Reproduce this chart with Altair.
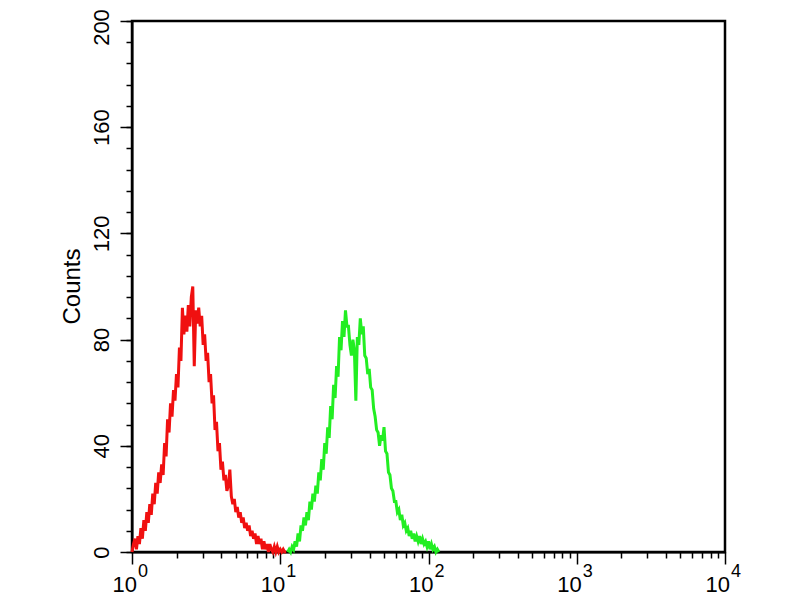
import altair as alt
import pandas as pd

# Histogram bins on a 4-decade log axis, 0.01 decade per bin
STEP = 0.01
red_start = 0.00
red_counts = [0, 3, 5, 1, 6, 3, 9, 5, 12, 8,
              15, 11, 18, 14, 22, 18, 26, 22, 30, 26,
              33, 29, 41, 36, 50, 45, 56, 51, 61, 57,
              67, 62, 77, 72, 92, 82, 89, 83, 93, 85,
              96, 100, 70, 91, 86, 92, 85, 89, 78, 82,
              72, 75, 64, 67, 56, 59, 46, 49, 38, 41,
              31, 34, 27, 29, 23, 25, 31, 21, 18, 20,
              15, 17, 13, 15, 11, 13, 9, 11, 8, 10,
              6, 8, 5, 7, 3, 6, 3, 5, 1, 4,
              1, 3, 0, 3, 1, 0, 2, 0, 2, 0,
              1, 0, 1, 0, 0]
green_start = 1.05
green_counts = [0, 1, 0, 2, 1, 4, 2, 7, 4, 10,
                8, 13, 10, 15, 12, 19, 16, 22, 19, 25,
                22, 30, 27, 35, 31, 41, 37, 47, 43, 55,
                50, 63, 58, 70, 66, 81, 76, 87, 81, 91,
                85, 85, 78, 74, 80, 76, 57, 81, 78, 88,
                82, 85, 74, 73, 67, 69, 62, 61, 54, 51,
                46, 45, 40, 44, 42, 47, 38, 37, 30, 29,
                24, 23, 19, 19, 15, 16, 12, 14, 10, 11,
                8, 9, 6, 8, 5, 7, 4, 6, 4, 6,
                3, 5, 3, 4, 2, 4, 1, 3, 1, 2,
                0, 1, 0]

y_major = [0, 40, 80, 120, 160, 200]
y_minor = list(range(0, 201, 8))
x_major = [1, 10, 100, 1000, 10000]
x_minor = [m * 10 ** k for k in range(4) for m in range(2, 10)]
x_base_text = ["10", "10", "10", "10", "10"]
x_exp_text = ["0", "1", "2", "3", "4"]

rows = []
for i, c in enumerate(red_counts):
    rows.append({"series": "red", "fl": 10 ** (red_start + i * STEP), "count": c})
for i, c in enumerate(green_counts):
    rows.append({"series": "green", "fl": 10 ** (green_start + i * STEP), "count": c})
df = pd.DataFrame(rows)
labels_df = pd.DataFrame({"fl": x_major, "base": x_base_text, "exp": x_exp_text})

FONT = "Liberation Sans"
xscale = alt.Scale(type="log", domain=[1, 10000], nice=False)
yscale = alt.Scale(domain=[0, 200], nice=False, zero=True)

x_major_axis = alt.Axis(values=x_major, tickSize=12, labels=False, title=None,
                        grid=False, orient="bottom", domainColor="black",
                        domainWidth=2, tickColor="black", tickWidth=1.5)
y_major_axis = alt.Axis(values=y_major, tickSize=12, grid=False, orient="left",
                        labelExpr="datum.value == 200 ? '' : datum.label",
                        labelAngle=-90, labelAlign="center", labelBaseline="middle",
                        labelPadding=19, labelFontSize=22, labelFont=FONT,
                        labelColor="black", labelOverlap=False,
                        domainColor="black", domainWidth=2, tickColor="black",
                        tickWidth=1.5, title="Counts", titleFont=FONT,
                        titleFontSize=24, titleFontWeight="normal", titleColor="black",
                        titleAngle=-90, titleAlign="center", titleBaseline="middle",
                        titleX=-60, titleY=265)

X = alt.X("fl:Q", scale=xscale, axis=x_major_axis)
Y = alt.Y("count:Q", scale=yscale, axis=y_major_axis)

lines = alt.Chart(df).mark_line(strokeWidth=3, interpolate="linear").encode(
    x=X, y=Y,
    color=alt.Color("series:N", scale=alt.Scale(domain=["red", "green"],
                                                 range=["#f01010", "#22ee22"]),
                    legend=None),
    detail="series:N",
)

base_txt = alt.Chart(labels_df).mark_text(
    align="right", baseline="alphabetic", dx=5, fontSize=22, font=FONT, color="black"
).encode(x=X, y=alt.value(571), text="base:N")

exp_txt = alt.Chart(labels_df).mark_text(
    align="left", baseline="alphabetic", dx=6, fontSize=18, font=FONT, color="black"
).encode(x=X, y=alt.value(556), text="exp:N")

main = alt.layer(lines, base_txt, exp_txt)

minor_ticks = alt.Chart(df).mark_point(opacity=0).encode(
    x=alt.X("fl:Q", scale=xscale,
            axis=alt.Axis(values=x_minor, tickSize=6, labels=False, domain=False,
                          title=None, grid=False, orient="bottom",
                          tickColor="black", tickWidth=1.5)),
    y=alt.Y("count:Q", scale=yscale,
            axis=alt.Axis(values=y_minor, tickSize=6, domain=False,
                          labelExpr="datum.value == 200 ? datum.label : ''",
                          labelAngle=-90, labelAlign="center", labelBaseline="middle",
                          labelPadding=25, labelFontSize=22, labelFont=FONT,
                          labelColor="black", labelOverlap=False, labelOffset=6,
                          title=None, grid=False, orient="left",
                          tickColor="black", tickWidth=1.5)),
)

chart = alt.layer(main, minor_ticks).resolve_axis(
    x="independent", y="independent"
).properties(
    width=593, height=531,
    padding={"left": 124, "top": 13, "right": 51, "bottom": 44},
    autosize=alt.AutoSizeParams(type="none"),
    background="white",
).configure_view(stroke="black", strokeWidth=2.5)

chart.save("out.html", embed_options={"renderer": "svg", "actions": False})
